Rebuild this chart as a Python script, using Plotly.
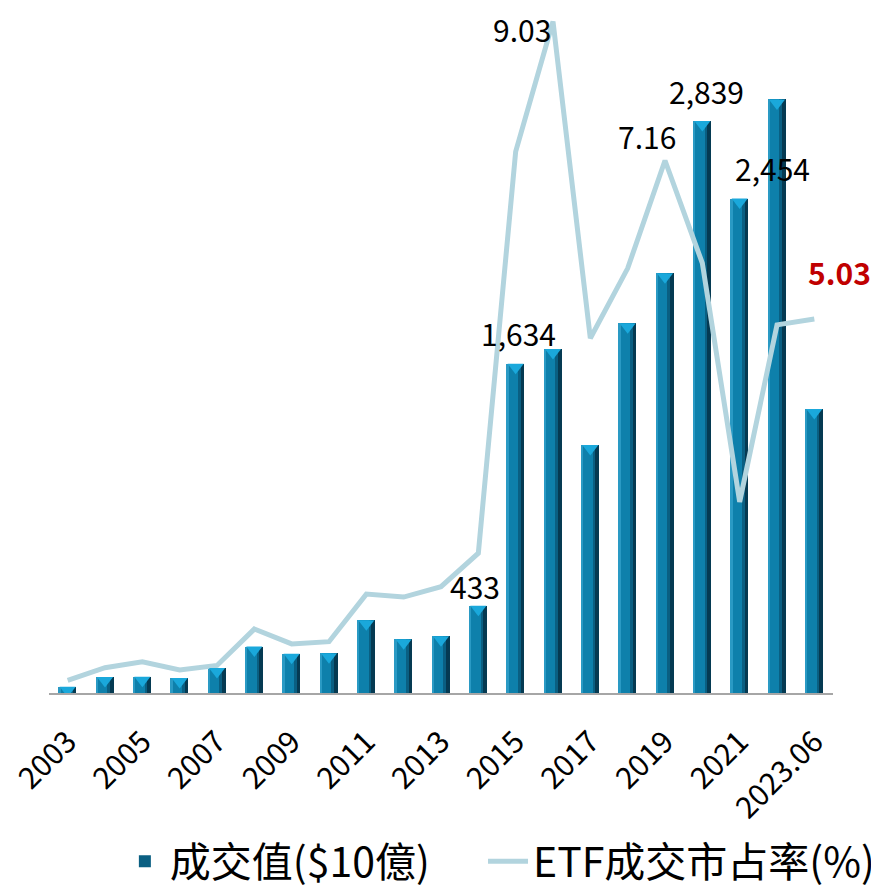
import plotly.graph_objects as go

years = ['2003', '2004', '2005', '2006', '2007', '2008', '2009', '2010', '2011', '2012',
         '2013', '2014', '2015', '2016', '2017', '2018', '2019', '2020', '2021', '2022', '2023.06']
turnover = [31, 79, 80, 74, 124, 230, 195, 197, 361, 266,
            281, 433, 1634, 1707, 1231, 1835, 2083, 2839, 2454, 2946, 1409]
share = [0.17, 0.34, 0.42, 0.31, 0.37, 0.86, 0.66, 0.69, 1.33, 1.29,
         1.43, 1.88, 7.28, 9.03, 4.77, 5.71, 7.16, 5.78, 2.57, 4.95, 5.03]
tick_years = ['2003', '2005', '2007', '2009', '2011', '2013', '2015', '2017', '2019', '2021', '2023.06']

bar_name = '成交值($10億)'
line_name = 'ETF成交市占率(%)'

FONT = 'Noto Sans CJK TC'
LINE_COLOR = '#b2d4de'

fig = go.Figure()

# 3D-ish bars: dark base, body, highlight, shadow
fig.add_trace(go.Bar(x=years, y=turnover, width=0.47, marker=dict(color='#0a5f82', line_width=0),
                     name=bar_name, legend='legend', hoverinfo='skip'))
fig.add_trace(go.Bar(x=years, y=turnover, width=0.05, offset=-0.235,
                     marker=dict(color='#2a9ac4', line_width=0), showlegend=False, hoverinfo='skip'))
fig.add_trace(go.Bar(x=years, y=turnover, width=0.25, offset=-0.185,
                     marker=dict(color='#0e80ab', line_width=0), showlegend=False, hoverinfo='skip'))
fig.add_trace(go.Bar(x=years, y=turnover, width=0.1, offset=0.135,
                     marker=dict(color='#053a52', line_width=0), showlegend=False, hoverinfo='skip'))
# bevelled top of each bar
fig.add_trace(go.Scatter(x=years, y=turnover, yaxis='y3', mode='markers',
                         marker=dict(symbol='triangle-down', size=14, color='#1aa8db', line_width=0),
                         showlegend=False, hoverinfo='skip'))

fig.add_trace(go.Scatter(x=years, y=share, yaxis='y2', mode='lines', name=line_name,
                         legend='legend2', line=dict(color=LINE_COLOR, width=5), hoverinfo='skip'))

# value labels (annotation x given as category index)
bar_labels = ['2014', '2015', '2020', '2021']
bar_shift = [(-3, 20), (3, 31), (4, 30), (33, 31)]
for yr, (dx, dy) in zip(bar_labels, bar_shift):
    i = years.index(yr)
    fig.add_annotation(x=i, y=turnover[i], yref='y', text=f'{turnover[i]:,}', showarrow=False,
                       xshift=dx, yshift=dy, font=dict(family=FONT, size=30, color='#000000'))

line_labels = ['2016', '2019']
line_shift = [(-31, -8), (-18, 25)]
for yr, (dx, dy) in zip(line_labels, line_shift):
    i = years.index(yr)
    fig.add_annotation(x=i, y=share[i], yref='y2', text=f'{share[i]:.2f}', showarrow=False,
                       xshift=dx, yshift=dy, font=dict(family=FONT, size=30, color='#000000'))

last = len(years) - 1
fig.add_annotation(x=last, y=share[last], yref='y2', text=f'<b>{share[last]:.2f}</b>', showarrow=False,
                   xshift=25, yshift=47, font=dict(family=FONT, size=30, color='#c00000'))

legend_style = dict(orientation='h', xanchor='left', y=-0.247, yanchor='middle',
                    font=dict(size=41), itemwidth=40, bgcolor='rgba(0,0,0,0)')

fig.update_layout(
    width=879, height=891,
    margin=dict(l=41, r=54, t=2, b=206),
    plot_bgcolor='white', paper_bgcolor='white',
    barmode='overlay', bargap=0,
    font=dict(family=FONT, color='#000000'),
    xaxis=dict(type='category', categoryorder='array', categoryarray=years,
               range=[-0.5, len(years) - 0.5], tickmode='array', tickvals=tick_years,
               ticktext=tick_years, tickangle=-45, tickfont=dict(size=30), showline=True,
               linecolor='#a6a6a6', linewidth=2, ticks='', showgrid=False, zeroline=False,
               automargin=False, ticklabelstandoff=17),
    yaxis=dict(range=[0, 3390], visible=False, showgrid=False),
    yaxis2=dict(range=[0, 9.184], overlaying='y', visible=False, showgrid=False),
    yaxis3=dict(range=[17, 3407], overlaying='y', visible=False, showgrid=False),
    legend=dict(x=0.0904, **legend_style),
    legend2=dict(x=0.5536, **legend_style),
)

fig.write_html('out.html')
